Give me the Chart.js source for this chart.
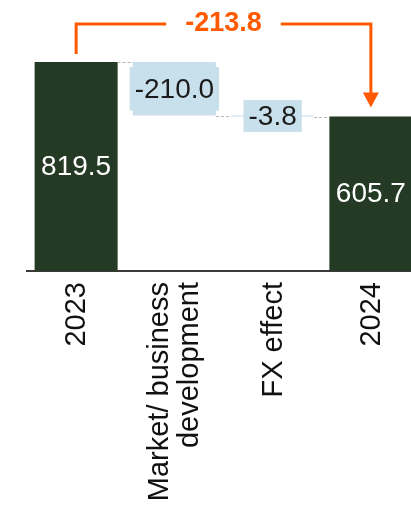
<!DOCTYPE html>
<html>
<head>
<meta charset="utf-8">
<script src="https://cdn.jsdelivr.net/npm/chart.js@4/dist/chart.umd.min.js"></script>
<style>
  html, body { margin: 0; padding: 0; background: #fff; overflow: hidden; }
  #wrap { width: 420px; height: 505px; }
</style>
</head>
<body>
<div id="wrap"><canvas id="graficoPonte" width="420" height="505"></canvas></div>
<script>
// dados do grafico
var categorias = ['2023', ['Market/ business', 'development'], 'FX effect', '2024'];
var totais = [819.5, null, null, 605.7];
var variacoes = [null, -210.0, -3.8, null];

var corTotal = '#253a25';
var corVariacao = '#c8e0ec';
var corLaranja = '#ff5a00';
var fonteTexto = '"Liberation Sans", Arial, sans-serif';

// barras flutuantes a partir do saldo acumulado
var faixas = [];
var saldo = totais[0];
for (var i = 0; i < categorias.length; i++) {
    if (variacoes[i] == null) { faixas.push(null); continue; }
    var novo = Math.round((saldo + variacoes[i]) * 10) / 10;
    faixas.push([novo, saldo]);
    saldo = novo;
}

var pluginRotulos = {
    id: 'rotulos',
    afterDatasetsDraw: function (chart) {
        var ctx = chart.ctx;
        var y = chart.scales.y;
        var x = chart.scales.x;
        var metaTot = chart.getDatasetMeta(0);
        var metaVar = chart.getDatasetMeta(1);
        var barra = function (i) { return totais[i] != null ? metaTot.data[i] : metaVar.data[i]; };

        // linhas de ligacao tracejadas
        var nivel = totais[0];
        ctx.save();
        ctx.strokeStyle = '#b5b5b5';
        ctx.lineWidth = 1;
        ctx.setLineDash([3, 2]);
        for (var i = 0; i < categorias.length - 1; i++) {
            if (faixas[i]) nivel = faixas[i][0];
            var a = barra(i), b = barra(i + 1);
            var py = Math.round(y.getPixelForValue(nivel)) + 0.5;
            ctx.beginPath();
            ctx.moveTo(a.x + a.width / 2, py);
            ctx.lineTo(b.x - b.width / 2, py);
            ctx.stroke();
        }
        ctx.restore();

        // rotulos de valor
        ctx.save();
        ctx.font = '28px ' + fonteTexto;
        ctx.textAlign = 'center';
        ctx.textBaseline = 'middle';
        for (var j = 0; j < categorias.length; j++) {
            var el = barra(j);
            var topo = Math.min(el.y, el.base), fundo = Math.max(el.y, el.base);
            var cy = (topo + fundo) / 2;
            if (totais[j] != null) {
                ctx.fillStyle = '#ffffff';
                ctx.fillText(totais[j].toFixed(1), el.x, cy + 1);
            } else {
                var txt = variacoes[j].toFixed(1);
                var w = ctx.measureText(txt).width + 10;
                var h = Math.max(32, fundo - topo - 10);
                ctx.fillStyle = corVariacao;
                ctx.fillRect(el.x - w / 2, cy - h / 2, w, h);
                ctx.fillStyle = '#1b1b1b';
                ctx.fillText(txt, el.x, cy + 1);
            }
        }
        ctx.restore();

        // rotulos do eixo x (verticais, linhas centradas no tick)
        ctx.save();
        ctx.font = '29px ' + fonteTexto;
        ctx.fillStyle = '#111';
        ctx.textAlign = 'right';
        ctx.textBaseline = 'middle';
        for (var k = 0; k < categorias.length; k++) {
            var linhas = Array.isArray(categorias[k]) ? categorias[k] : [categorias[k]];
            var px = x.getPixelForTick(k);
            for (var l = 0; l < linhas.length; l++) {
                var dx = (l - (linhas.length - 1) / 2) * 30;
                ctx.save();
                ctx.translate(px + dx + 1, x.top + 11);
                ctx.rotate(-Math.PI / 2);
                ctx.fillText(linhas[l], 0, 0);
                ctx.restore();
            }
        }
        ctx.restore();

        // seta laranja com a variacao total
        var ini = metaTot.data[0], fim = metaTot.data[3];
        var topoY = chart.chartArea.top + 8;
        var difTotal = (totais[3] - totais[0]).toFixed(1);
        ctx.save();
        ctx.font = 'bold 27px ' + fonteTexto;
        var larg = ctx.measureText(difTotal).width;
        var meio = (ini.x + fim.x) / 2;
        ctx.strokeStyle = corLaranja;
        ctx.fillStyle = corLaranja;
        ctx.lineWidth = 3;
        ctx.beginPath();
        ctx.moveTo(ini.x, ini.y - 8);
        ctx.lineTo(ini.x, topoY);
        ctx.lineTo(meio - larg / 2 - 19, topoY);
        ctx.moveTo(meio + larg / 2 + 19, topoY);
        ctx.lineTo(fim.x, topoY);
        ctx.lineTo(fim.x, fim.y - 22);
        ctx.stroke();
        ctx.beginPath();
        ctx.moveTo(fim.x - 8, fim.y - 24);
        ctx.lineTo(fim.x + 8, fim.y - 24);
        ctx.lineTo(fim.x, fim.y - 9);
        ctx.closePath();
        ctx.fill();
        ctx.textAlign = 'center';
        ctx.textBaseline = 'middle';
        ctx.fillText(difTotal, meio, topoY);
        ctx.restore();
    }
};

var ctxPonte = document.getElementById('graficoPonte');
var graficoPonte = new Chart(ctxPonte, {
    type: 'bar',
    data: {
        labels: categorias,
        datasets: [
            {
                label: 'Total',
                data: totais,
                backgroundColor: corTotal,
                barPercentage: 0.845,
                categoryPercentage: 1,
                grouped: false
            },
            {
                label: 'Variacao',
                data: faixas,
                backgroundColor: corVariacao,
                barPercentage: 0.845,
                categoryPercentage: 1,
                grouped: false
            }
        ]
    },
    options: {
        responsive: false,
        animation: false,
        layout: { padding: { top: 16, left: 27, right: 0, bottom: 0 } },
        plugins: { legend: { display: false }, tooltip: { enabled: false } },
        scales: {
            x: {
                grid: { display: true, color: 'rgba(0,0,0,0)', drawTicks: false, drawOnChartArea: false },
                border: { display: true, color: '#3a3a3a', width: 2 },
                ticks: { display: false },
                afterFit: function (s) { s.height = 234; }
            },
            y: { display: false, min: 0, max: 1000 }
        }
    },
    plugins: [pluginRotulos]
});
</script>
</body>
</html>
